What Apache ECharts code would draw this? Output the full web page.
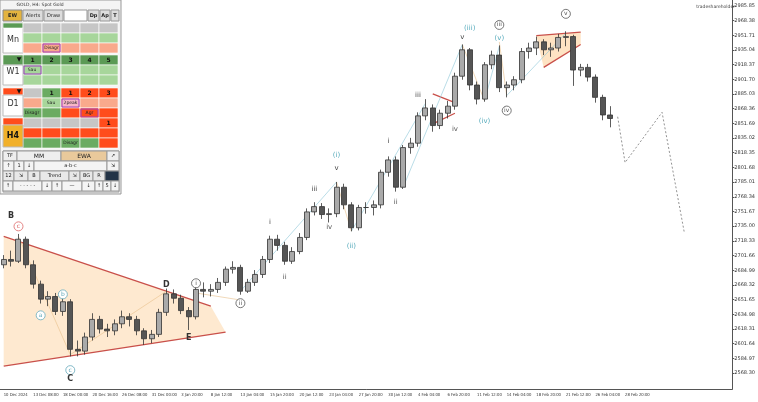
<!DOCTYPE html>
<html><head><meta charset="utf-8">
<script src="https://cdn.jsdelivr.net/npm/echarts@6/dist/echarts.min.js"></script>
<style>html,body{margin:0;padding:0;background:#fff}#c{width:758px;height:402px}</style>
</head><body><div id="c"></div>
<script>
// ---- data ----
const xTickLabels = ['10 Dec 2024','13 Dec 08:00','18 Dec 00:00','20 Dec 16:00','26 Dec 08:00','31 Dec 00:00','3 Jan 20:00','8 Jan 12:00','13 Jan 04:00','15 Jan 20:00','20 Jan 12:00','23 Jan 04:00','27 Jan 20:00','30 Jan 12:00','4 Feb 04:00','6 Feb 20:00','11 Feb 12:00','14 Feb 04:00','18 Feb 20:00','21 Feb 12:00','26 Feb 04:00','28 Feb 20:00'];
const yTickValues = [2985.85,2969.18,2952.51,2935.84,2919.17,2902.50,2885.83,2869.16,2852.49,2835.82,2819.15,2802.48,2785.81,2769.14,2752.47,2735.80,2719.13,2702.46,2685.79,2669.12,2652.45,2635.78,2619.11,2602.44,2585.77,2569.10];
const yTickLabels = ['2985.85','2968.38','2951.71','2935.04','2918.37','2901.70','2885.03','2868.36','2851.69','2835.02','2818.35','2801.68','2785.01','2768.34','2751.67','2735.00','2718.33','2701.66','2684.99','2668.32','2651.65','2634.98','2618.31','2601.64','2584.97','2568.30'];
// [open, close, low, high], one candle per 16h
const candles = [
[2692,2698,2688,2703],[2698,2696,2690,2708],[2696,2721,2694,2727],[2721,2692,2688,2724],[2692,2670,2665,2697],
[2670,2653,2648,2674],[2653,2656,2645,2662],[2656,2639,2635,2660],[2639,2650,2634,2655],[2650,2596,2588,2653],
[2596,2594,2588,2606],[2594,2610,2590,2615],[2610,2630,2606,2637],[2630,2619,2614,2634],[2619,2617,2610,2625],
[2617,2625,2612,2630],[2625,2633,2620,2640],[2633,2630,2622,2637],[2630,2617,2612,2634],[2617,2608,2601,2620],
[2608,2613,2603,2618],[2613,2638,2610,2642],[2638,2659,2634,2665],[2659,2654,2648,2664],[2654,2640,2636,2658],
[2640,2633,2618,2644],[2633,2664,2630,2668],[2664,2662,2655,2672],[2662,2664,2656,2670],[2664,2672,2660,2677],
[2672,2687,2668,2690],[2687,2689,2682,2696],[2689,2662,2658,2692],[2662,2672,2660,2676],[2672,2681,2668,2686],
[2681,2698,2677,2702],[2698,2721,2694,2725],[2721,2714,2708,2726],[2714,2696,2692,2718],[2696,2707,2693,2712],
[2707,2723,2704,2728],[2723,2752,2720,2756],[2752,2758,2748,2763],[2758,2749,2744,2762],[2749,2750,2740,2756],
[2750,2780,2746,2786],[2780,2760,2755,2784],[2760,2734,2730,2763],[2734,2757,2731,2760],[2757,2757,2750,2763],
[2757,2760,2748,2765],[2760,2797,2756,2800],[2797,2811,2792,2815],[2811,2780,2775,2815],[2780,2825,2778,2828],
[2825,2830,2818,2836],[2830,2861,2826,2865],[2861,2870,2856,2880],[2870,2850,2843,2874],[2850,2864,2846,2868],
[2864,2872,2858,2878],[2872,2906,2868,2910],[2906,2936,2902,2942],[2936,2896,2890,2938],[2896,2880,2874,2900],
[2880,2919,2877,2922],[2919,2930,2914,2935],[2930,2893,2888,2941],[2893,2896,2882,2900],[2896,2902,2890,2906],
[2902,2934,2898,2938],[2934,2938,2926,2944],[2938,2945,2930,2951],[2945,2936,2930,2948],[2936,2938,2928,2944],
[2938,2950,2934,2954],[2950,2951,2940,2957],[2951,2913,2895,2953],[2913,2916,2906,2920],[2916,2905,2900,2920],
[2905,2882,2876,2908],[2882,2862,2856,2885],[2862,2858,2848,2872]
];
const projection = [[82.5,2860],[84.2,2808],[88.7,2865],[91.8,2729]];
const waveLabels = [
['B',1.0,2747,'#333',0,1],['c',1.5,2735.6,'#d66',1,0],['a',4.6,2634.6,'#6ab',1,0],['b',7.8,2658.4,'#6ab',1,0],
['c',8.9,2572.4,'#6ab',1,0],['C',8.9,2562,'#333',0,1],['D',22.4,2668.8,'#333',0,1],['E',24.8,2608.8,'#333',0,1],
['i',25.8,2671,'#555',1,0],['ii',32.3,2648.4,'#555',1,0],['i',35.7,2740.4,'#444',0,0],['ii',38.1,2678.1,'#555',0,0],
['iii',41.6,2777.3,'#444',0,0],['iv',43.6,2734.2,'#555',0,0],['v',44.9,2801.2,'#444',0,0],['(i)',44.9,2815.9,'#5ab',0,0],
['(ii)',47.1,2712.6,'#5ab',0,0],['i',52.2,2832,'#444',0,0],['ii',53.1,2762.9,'#555',0,0],['iii',56.3,2885,'#444',0,0],
['iv',60.6,2845.4,'#555',0,0],['(iii)',62.6,2961,'#5ab',0,0],['v',62.4,2950.6,'#444',0,0],['iii',66.9,2964.2,'#555',1,0],
['(v)',66.9,2949.5,'#5ab',0,0],['(iv)',64.7,2854.5,'#5ab',0,0],['iv',68.1,2867,'#555',1,0],['v',76.3,2976.8,'#555',1,0]
];
// annotation shapes [index, price]
const bigTriangle = [[-0.5,2724.2],[28.3,2645.0],[29.5,2615.5],[-0.5,2577.0]];
const redLines = [
[[-0.5,2724.2],[28.3,2645.0]],[[-0.5,2577.0],[29.5,2615.5]],
[[57.8,2886],[60.9,2876]],[[58.1,2852],[60.9,2864]],
[[72.2,2952],[77.5,2956]],[[72.8,2916],[77.7,2942]]
];
const wedge = [[72.2,2952],[77.5,2956],[77.7,2942],[72.8,2916]];
const waveLinesBlue = [[[32.3,2662],[45,2786]],[[47,2730],[57,2875]],[[54,2780],[62,2942]],[[64.5,2878],[66.8,2940]],[[68.3,2884],[76.3,2955]]];
const waveLinesOrange = [[[1.5,2724],[9,2590]],[[9,2590],[22.4,2662]],[[25.8,2660],[32.3,2652]],[[45,2786],[47,2730]],[[62.4,2942],[64.5,2878]],[[66.8,2945],[68.3,2884]]];

const N = 99;
const cats = [];
for (let i = 0; i < N; i++) cats.push(i % 4 === 0 && xTickLabels[i/4] ? xTickLabels[i/4] : '');

const chart = echarts.init(document.getElementById('c'));
function polySeries(polys, fill, stroke, dashed, w){
  return {type:'custom', coordinateSystem:'cartesian2d', silent:true, z:1,
    data: polys.map((p,k)=>[k]),
    renderItem:(params, api)=>{
      const pts = polys[params.dataIndex].map(q=>api.coord(q));
      if (fill) return {type:'polygon', shape:{points:pts}, style:{fill:fill, stroke:stroke||null, lineWidth:w||1}};
      return {type:'polyline', shape:{points:pts}, style:{fill:null, stroke:stroke, lineWidth:w||1, lineDash: dashed?[2,2]:null}};
    }};
}
const labelSeries = {type:'custom', coordinateSystem:'cartesian2d', silent:true, z:10,
  data: waveLabels.map((l,k)=>[l[1],l[2],k]),
  renderItem:(params, api)=>{
    const l = waveLabels[params.dataIndex];
    const p = api.coord([l[1],l[2]]);
    const kids = [];
    if (l[4]) kids.push({type:'circle', shape:{cx:p[0],cy:p[1],r:4.5}, style:{fill:'#fff',stroke:l[3],lineWidth:0.8}});
    kids.push({type:'text', style:{x:p[0],y:p[1],text:l[0],fill:l[3],font:(l[5]?'bold 8px':(l[4]?'6px':'7px'))+' "DejaVu Sans"',align:'center',verticalAlign:'middle'}});
    return {type:'group', children:kids};
  }};

chart.setOption({
  animation:false,
  grid:{left:0,right:19,top:0,bottom:13},
  xAxis:{type:'category', data:cats, boundaryGap:true,
    axisLine:{lineStyle:{color:'#555',width:1}}, axisTick:{show:false},
    axisLabel:{interval:0, fontSize:4.2, color:'#333', fontFamily:'Liberation Sans Narrow, DejaVu Sans Condensed', align:'left', margin:4,
      formatter:v=>v}},
  yAxis:{type:'value', position:'right', min:2551, max:2992.5, splitLine:{show:false},
    axisLine:{show:true,lineStyle:{color:'#555'}},
    axisTick:{show:true, customValues:yTickValues, length:2},
    axisLabel:{customValues:yTickValues, fontSize:5, color:'#333', fontFamily:'DejaVu Sans', margin:2,
      formatter:v=>{const k=yTickValues.findIndex(t=>Math.abs(t-v)<0.01);return k>=0?yTickLabels[k]:'';}}},
  series:[
    polySeries([bigTriangle], 'rgba(253,215,170,0.55)'),
    polySeries([wedge], 'rgba(253,215,170,0.7)'),
    polySeries(redLines, null, '#c9504a', false, 1.3),
    polySeries(waveLinesBlue, null, '#8cc6d6', false, 0.6),
    polySeries(waveLinesOrange, null, '#e8c08a', false, 0.6),
    polySeries([projection], null, '#777', true, 0.8),
    {type:'candlestick', data:candles.map(c=>[c[0],c[1],c[2],c[3]]), barWidth:5.5, z:5,
      itemStyle:{color:'#aaa',color0:'#555',borderColor:'#333',borderColor0:'#333',borderWidth:0.8}},
    labelSeries
  ]
});

// ---- panel ----
const g = [];
function rect(x,y,w,h,fill,stroke){g.push({type:'rect',shape:{x,y,width:w,height:h},style:{fill,stroke:stroke||'#fff',lineWidth:stroke?1:0.6},z:100});}
function txt(x,y,t,size,color,bold){g.push({type:'text',style:{x,y,text:t,fill:color||'#222',font:(bold?'bold ':'')+(size||5)+'px "DejaVu Sans"',align:'center',verticalAlign:'middle'},z:101});}
rect(0,0,121,194,'#f4f4f4','#999');
txt(40,5,'GOLD, H4: Spot Gold',4.5,'#333');
rect(3,10,19,11,'#e3b33f','#888');txt(12.5,15.5,'EW',5,'#222',1);
rect(23,10,20,11,'#ddd','#999');txt(33,15.5,'Alerts',5);
rect(44,10,19,11,'#ddd','#999');txt(53.5,15.5,'Draw',5);
rect(64,10,23,11,'#fff','#999');
rect(88,10,11,11,'#ddd','#999');txt(93.5,15.5,'Dp',5,'#222',1);
rect(100,10,10,11,'#ddd','#999');txt(105,15.5,'Ap',5,'#222',1);
rect(111,10,8,11,'#ddd','#999');txt(115,15.5,'T',5,'#222',1);
const cx=[23,42,61,80,99], cw=19, GR='#c6c6c6', LG='#a7d69b', SA='#f9a98c', DG='#5b9a55', RD='#ff4c1c', MG='#6bab62';
function blockRows(y0, rows){rows.forEach((r,ri)=>r.forEach((c,ci)=>rect(cx[ci],y0+ri*10,cw,10,c)));}
rect(3,23,20,30,'#fff','#bbb');txt(13,40,'Mn',8,'#333');rect(3,23,20,5,DG);
blockRows(23,[[GR,GR,GR,GR,GR],[LG,LG,LG,LG,LG],[SA,SA,SA,SA,SA]]);
rect(43,44,17,8,SA,'#a040c0');txt(51.5,48,'Disagr',4.5);
blockRows(55,[[DG,DG,DG,DG,DG],[LG,LG,LG,LG,LG],[LG,LG,LG,LG,LG]]);
rect(3,55,20,10,DG);rect(3,65,20,20,'#fff','#bbb');txt(13,72,'W1',8,'#333');txt(19,59,'▼',6,'#111');
['1','2','3','4','5'].forEach((t,i)=>txt(cx[i]+9.5,60,t,6,'#111',1));
rect(24,66,17,8,LG,'#a040c0');txt(32,70,'Sau',4.5);
blockRows(88,[[GR,MG,RD,RD,RD],[SA,LG,SA,SA,SA],[MG,MG,RD,RD,RD]]);
rect(3,88,20,7,RD);rect(3,95,20,21,'#fff','#bbb');txt(13,104,'D1',8,'#333');txt(19,91,'▼',6,'#111');
[['1',1],['1',2],['2',3],['3',4]].forEach(a=>txt(cx[a[1]]+9.5,93,a[0],6,'#111',1));
txt(51,103,'Sau',4.5);rect(62,99,17,8,'#f7b7c7','#a040c0');txt(70.5,103,'2peak',4.5);
txt(32,113,'Disagr',4.5);rect(81,109,17,8,RD,'#a040c0');txt(89.5,113,'Agr',4.5);
blockRows(118,[[GR,GR,GR,GR,RD],[RD,RD,RD,RD,RD],[MG,MG,MG,MG,RD]]);
rect(3,118,20,7,RD);rect(3,125,20,22,'#f1b02a','#bbb');txt(13,136,'H4',8,'#111',1);
txt(108.5,123,'1',6,'#111',1);txt(70.5,143,'Disagr',4.5);
rect(3,151,116,41,'#fff','#999');
rect(3,151,14,10,'#eee','#999');txt(10,156,'TF',5);
rect(17,151,44,10,'#eee','#999');txt(39,156,'MM',6);
rect(61,151,46,10,'#e9c99b','#999');txt(84,156,'EWA',6);
rect(107,151,12,10,'#eee','#999');txt(113,156,'↗',5);
const r2=[['↑',3,11],['1',14,10],['↓',24,10],['a-b-c',34,73],['⇲',107,12]];
r2.forEach(a=>{rect(a[1],161,a[2],10,'#f4f4f4','#999');txt(a[1]+a[2]/2,166,a[0],5);});
const r3=[['12',3,11],['⇲',14,14],['B',28,12],['Trend',40,29],['⇲',69,11],['BG',80,13],['R',93,12]];
r3.forEach(a=>{rect(a[1],171,a[2],10,'#e8e8e8','#999');txt(a[1]+a[2]/2,176,a[0],5);});
rect(105,171,14,10,'#233447','#999');
const r4=[['↑',3,10],['- - - - -',13,29],['↓',42,10],['↑',52,10],['—',62,20],['↓',82,13],['↑',95,8],['5',103,8],['↓',111,8]];
r4.forEach(a=>{rect(a[1],181,a[2],10,'#f4f4f4','#999');txt(a[1]+a[2]/2,186,a[0],5);});
g.push({type:'text',style:{x:735,y:7,text:'tradeshareholder',fill:'#444',font:'4.5px "DejaVu Sans"',align:'right',verticalAlign:'middle'},z:101});
chart.setOption({graphic:g});
</script></body></html>
